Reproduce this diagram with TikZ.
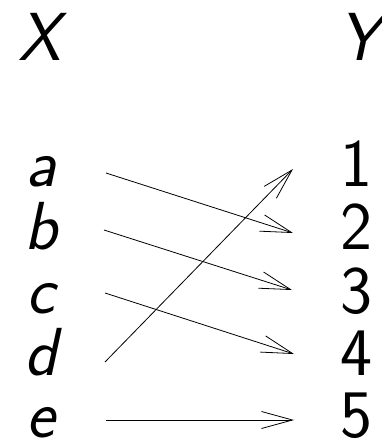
\documentclass[tikz,border=0pt]{standalone}
\usepackage{fontspec}
\usepackage{tikz}
\usetikzlibrary{arrows.meta,positioning}
\tikzset{
  % --- nodes
  var/.style = {font=\fontsize{68}{80}\selectfont\sffamily\itshape, inner sep=0pt, anchor=base},
  num/.style = {font=\fontsize{68}{80}\selectfont\sffamily, inner sep=0pt, anchor=base},
  % --- edges
  e/.style   = {-{Straight Barb[length=31pt,width=17pt]}, line width=0.8pt, draw=black},
}
\begin{document}
\begin{tikzpicture}[x=1pt,y=-1pt]
  \useasboundingbox (0,0) rectangle (381,440);
  \node[var] (X) at (40,60) {X};
  \node[var] (Y) at (360,60) {Y};
  \node[var] (a) at (41,186) {a};
  \node[var] (b) at (41,249) {b};
  \node[var] (c) at (41,313) {c};
  \node[var] (d) at (41,375) {d};
  \node[var] (e) at (41,437) {e};
  \node[num] (n1) at (356,186) {1};
  \node[num] (n2) at (356,249) {2};
  \node[num] (n3) at (356,313) {3};
  \node[num] (n4) at (356,375) {4};
  \node[num] (n5) at (356,437) {5};
  \coordinate (a-out) at (106,173); \coordinate (b-out) at (104,230);
  \coordinate (c-out) at (105,293); \coordinate (d-out) at (105,362);
  \coordinate (e-out) at (106,420);
  \coordinate (n1-in) at (293,169); \coordinate (n2-in) at (293,233);
  \coordinate (n3-in) at (292,290); \coordinate (n4-in) at (294,354);
  \coordinate (n5-in) at (294,420);
  \draw[e] (a-out)--(n2-in); \draw[e] (b-out)--(n3-in); \draw[e] (c-out)--(n4-in);
  \draw[e] (d-out)--(n1-in); \draw[e] (e-out)--(n5-in);
\end{tikzpicture}
\end{document}
